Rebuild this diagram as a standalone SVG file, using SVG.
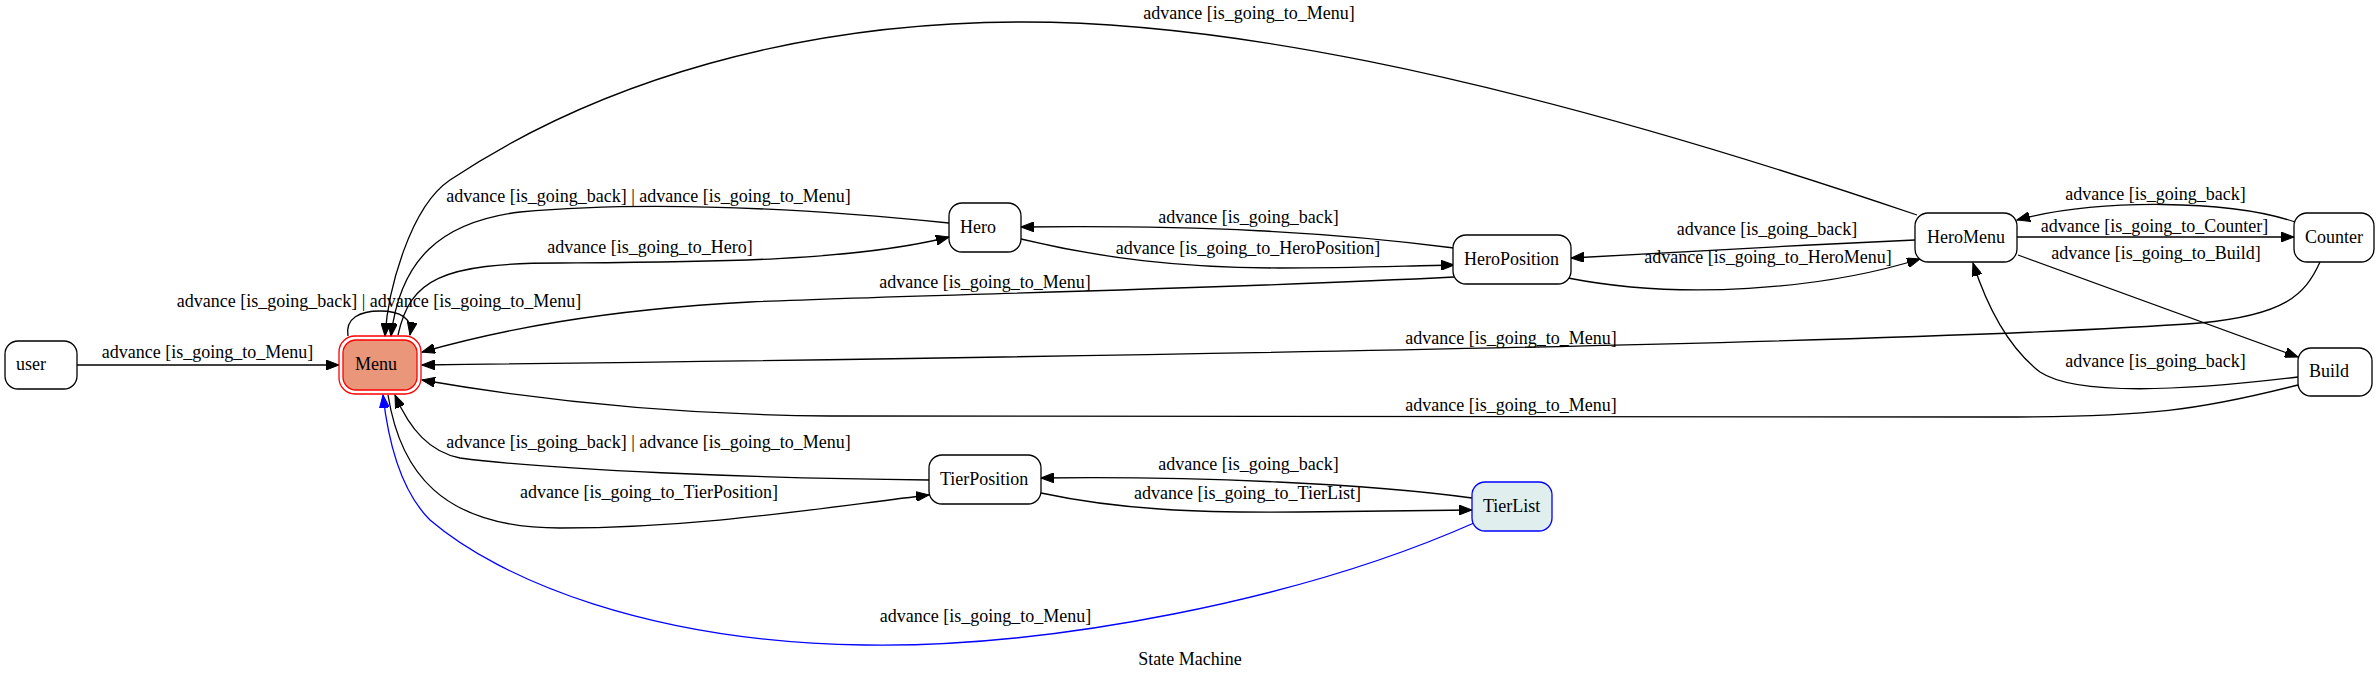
<svg xmlns="http://www.w3.org/2000/svg" width="2380" height="682" viewBox="0 0 2380 682">
<style>
text{font-family:"Liberation Serif","Times New Roman",serif;font-size:18px;fill:#000}
.lbl{text-anchor:middle}
.node rect{fill:#fff;stroke:#000;stroke-width:1.3}
.edge{fill:none;stroke:#000;stroke-width:1.3;marker-end:url(#arr)}
.blue{stroke:#0000ff;marker-end:url(#arrb)}
</style>
<defs>
<marker id="arr" markerUnits="userSpaceOnUse" markerWidth="14" markerHeight="10" refX="13" refY="5" orient="auto" viewBox="0 0 14 10"><path d="M0,0 L13,5 L0,10 z" fill="#000" stroke="#000" stroke-width="1"/></marker>
<marker id="arrb" markerUnits="userSpaceOnUse" markerWidth="14" markerHeight="10" refX="13" refY="5" orient="auto" viewBox="0 0 14 10"><path d="M0,0 L13,5 L0,10 z" fill="#0000ff" stroke="#0000ff" stroke-width="1"/></marker>
</defs>
<rect x="0" y="0" width="2380" height="682" fill="#fff"/>

<g id="connectors">
<path class="edge" d="M77,365 L339,365"/>
<text class="lbl" x="207.5" y="358">advance [is_going_to_Menu]</text>

<path class="edge" d="M348,336 C345,318 360,311 380,311 C400,311 413,318 410,335"/>
<text class="lbl" x="379" y="307">advance [is_going_back] | advance [is_going_to_Menu]</text>

<path class="edge" d="M1917,215 C1467,62 1200,22 1023,22 C800,22 600,80 450,180 C410,207 388,290 385,336"/>
<text class="lbl" x="1249" y="19">advance [is_going_to_Menu]</text>

<path class="edge" d="M949,223 C800,208 650,200 520,212 C440,222 400,260 391,336"/>
<text class="lbl" x="648.5" y="202">advance [is_going_back] | advance [is_going_to_Menu]</text>

<path class="edge" d="M398,335 C410,280 440,263 560,263 C700,262 850,262 949,237"/>
<text class="lbl" x="650" y="253">advance [is_going_to_Hero]</text>

<path class="edge" d="M1454,277 C1200,290 900,295 750,302 C600,310 500,330 422,352"/>
<text class="lbl" x="985" y="288">advance [is_going_to_Menu]</text>

<path class="edge" d="M2320,262 C2305,295 2285,315 2200,323 C1900,345 1000,358 422,365"/>
<text class="lbl" x="1511" y="344">advance [is_going_to_Menu]</text>

<path class="edge" d="M2298,385 C2200,410 2150,417 2000,417 C1500,417 1000,418 830,416 C700,415 560,404 422,380"/>
<text class="lbl" x="1511" y="411">advance [is_going_to_Menu]</text>

<path class="edge" d="M929,480 C750,478 550,470 460,458 C430,452 410,430 395,395"/>
<text class="lbl" x="648.5" y="448">advance [is_going_back] | advance [is_going_to_Menu]</text>

<path class="edge" d="M388,395 C400,470 440,528 560,528 C700,528 820,508 929,495"/>
<text class="lbl" x="649" y="498">advance [is_going_to_TierPosition]</text>

<path class="edge blue" d="M1474,523 C1300,600 1050,648 864,645 C650,642 500,580 430,520 C400,490 388,440 383,395"/>
<text class="lbl" x="985.5" y="622">advance [is_going_to_Menu]</text>

<path class="edge" d="M1454,248 C1330,232 1200,225 1021,227"/>
<text class="lbl" x="1248.5" y="223">advance [is_going_back]</text>

<path class="edge" d="M1021,239 C1100,258 1180,268 1280,268 C1350,268 1400,266 1454,265"/>
<text class="lbl" x="1248" y="254">advance [is_going_to_HeroPosition]</text>

<path class="edge" d="M1915,240 C1800,245 1680,252 1571,258"/>
<text class="lbl" x="1767" y="235">advance [is_going_back]</text>

<path class="edge" d="M1568,278 C1680,300 1820,290 1920,259"/>
<text class="lbl" x="1768" y="263">advance [is_going_to_HeroMenu]</text>

<path class="edge" d="M2295,222 C2230,200 2100,198 2017,220"/>
<text class="lbl" x="2155.5" y="200">advance [is_going_back]</text>

<path class="edge" d="M2017,237 L2294,237"/>
<text class="lbl" x="2154.5" y="232">advance [is_going_to_Counter]</text>

<path class="edge" d="M2018,255 L2298,357"/>
<text class="lbl" x="2156" y="259">advance [is_going_to_Build]</text>

<path class="edge" d="M2298,377 C2150,395 2070,392 2040,372 C2005,345 1985,300 1973,263"/>
<text class="lbl" x="2155.5" y="367">advance [is_going_back]</text>

<path class="edge" d="M1472,498 C1370,484 1200,476 1041,478"/>
<text class="lbl" x="1248.5" y="470">advance [is_going_back]</text>

<path class="edge" d="M1041,493 C1120,510 1200,513 1300,512 C1380,511 1430,510 1472,510"/>
<text class="lbl" x="1247.5" y="499">advance [is_going_to_TierList]</text>
</g>

<g id="user" class="node"><rect x="5" y="341" width="72" height="48" rx="13"/><text x="16" y="370">user</text></g>
<g id="Menu" class="node">
<rect x="339" y="336" width="82" height="58" rx="16" style="fill:none;stroke:#ff0000"/>
<rect x="343" y="340" width="74" height="50" rx="13" style="fill:#e9967a;stroke:#ff0000"/>
<text x="355" y="370">Menu</text></g>
<g id="Hero" class="node"><rect x="949" y="203" width="72" height="49" rx="13"/><text x="960" y="233">Hero</text></g>
<g id="HeroPosition" class="node"><rect x="1453" y="235" width="118" height="49" rx="13"/><text x="1464" y="265">HeroPosition</text></g>
<g id="HeroMenu" class="node"><rect x="1915" y="213" width="102" height="49" rx="13"/><text x="1927" y="243">HeroMenu</text></g>
<g id="Counter" class="node"><rect x="2294" y="213" width="80" height="49" rx="13"/><text x="2305" y="243">Counter</text></g>
<g id="Build" class="node"><rect x="2298" y="348" width="74" height="48" rx="13"/><text x="2309" y="377">Build</text></g>
<g id="TierPosition" class="node"><rect x="929" y="455" width="112" height="49" rx="13"/><text x="940" y="485">TierPosition</text></g>
<g id="TierList" class="node"><rect x="1472" y="482" width="80" height="49" rx="13" style="fill:#e0eeee;stroke:#0000ff"/><text x="1483" y="512">TierList</text></g>

<text class="lbl" x="1190" y="665">State Machine</text>
</svg>
